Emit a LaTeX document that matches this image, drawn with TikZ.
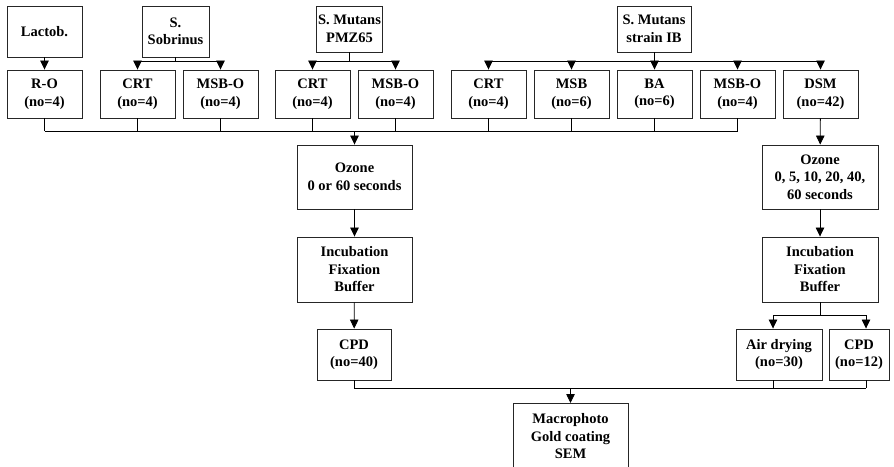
\documentclass[tikz,border=0pt]{standalone}
\usepackage{fontspec}
\setmainfont{Liberation Serif}
\usetikzlibrary{arrows.meta}
\begin{document}
\begin{tikzpicture}[x=1pt,y=-1pt,
  box/.style={draw=black!85, line width=0.9pt, align=center,
    font=\fontsize{14.5}{17.5}\selectfont\bfseries, inner sep=2pt},
  conn/.style={line width=0.8pt},
  arr/.style={conn, -{Triangle[width=8.5pt,length=9pt]}}]
\useasboundingbox (0,0) rectangle (894,466);
% top row
\node[box, minimum width=75pt, minimum height=51pt] (lac) at (44.5,31.5) {Lactob.};
\node[box, minimum width=67pt, minimum height=51pt] (sob) at (175.5,31.5) {S.\\Sobrinus};
\node[box, minimum width=65pt, minimum height=46pt] (pmz) at (349.5,29) {S. Mutans\\PMZ65};
\node[box, minimum width=74pt, minimum height=46pt] (ib) at (654,29) {S. Mutans\\strain IB};
% second row
\node[box, minimum width=75pt, minimum height=48pt] (ro) at (44.5,94) {R-O\\(no=4)};
\node[box, minimum width=75pt, minimum height=48pt] (crta) at (137.5,94) {CRT\\(no=4)};
\node[box, minimum width=75pt, minimum height=48pt] (msboa) at (220.5,94) {MSB-O\\(no=4)};
\node[box, minimum width=75pt, minimum height=48pt] (crtb) at (312.5,94) {CRT\\(no=4)};
\node[box, minimum width=75pt, minimum height=48pt] (msbob) at (395.5,94) {MSB-O\\(no=4)};
\node[box, minimum width=75pt, minimum height=48pt] (crtc) at (488.5,94) {CRT\\(no=4)};
\node[box, minimum width=75pt, minimum height=48pt] (msb) at (571.5,94) {MSB\\(no=6)};
\node[box, minimum width=75pt, minimum height=48pt] (ba) at (654.5,94) {BA\\(no=6)};
\node[box, minimum width=75pt, minimum height=48pt] (msboc) at (737.5,94) {MSB-O\\(no=4)};
\node[box, minimum width=75pt, minimum height=48pt] (dsm) at (820.5,94) {DSM\\(no=42)};
% left column
\node[box, minimum width=115pt, minimum height=64pt] (ozl) at (354.5,177) {Ozone\\0 or 60 seconds};
\node[box, minimum width=115pt, minimum height=65pt] (incl) at (354.5,269.5) {Incubation\\Fixation\\Buffer};
\node[box, minimum width=74pt, minimum height=51pt] (cpdl) at (354,354.5) {CPD\\(no=40)};
% right column
\node[box, minimum width=116pt, minimum height=64pt] (ozr) at (820,177) {Ozone\\0, 5, 10, 20, 40,\\60 seconds};
\node[box, minimum width=116pt, minimum height=65pt] (incr) at (820,269.5) {Incubation\\Fixation\\Buffer};
\node[box, minimum width=86pt, minimum height=51pt] (air) at (779,354.5) {Air drying\\(no=30)};
\node[box, minimum width=60pt, minimum height=51pt] (cpdr) at (859,354.5) {CPD\\(no=12)};
% bottom
\node[box, minimum width=115pt, anchor=north, inner ysep=10pt] (mac) at (570.5,403) {Macrophoto\\Gold coating\\SEM};
% helper levels
\coordinate (bry) at (0,61.5);
\coordinate (coly) at (0,131);
\coordinate (spy) at (0,315);
\coordinate (boty) at (0,388);
% top connectors
\draw[arr] (lac) -- (ro);
\draw[conn] (sob.south) -- (sob.south |- bry);
\draw[arr] (sob.south |- bry) -| (crta.north);
\draw[arr] (sob.south |- bry) -| (msboa.north);
\draw[conn] (pmz.south) -- (pmz.south |- bry);
\draw[arr] (pmz.south |- bry) -| (crtb.north);
\draw[arr] (pmz.south |- bry) -| (msbob.north);
\draw[conn] (ib.south) -- (ib.south |- bry);
\draw[conn] (crtc.north |- bry) -- (dsm.north |- bry);
\foreach \n in {crtc,msb,ba,msboc,dsm}
  \draw[arr] (\n.north |- bry) -- (\n.north);
% collector
\foreach \n in {ro,crta,msboa,crtb,msbob,crtc,msb,ba,msboc}
  \draw[conn] (\n.south) -- (\n.south |- coly);
\draw[conn] (ro.south |- coly) -- (msboc.south |- coly);
\draw[arr] (ozl.north |- coly) -- (ozl.north);
\draw[arr] (ozl) -- (incl);
\draw[arr] (incl) -- (cpdl);
% right column connectors
\draw[arr] (dsm) -- (ozr);
\draw[arr] (ozr) -- (incr);
\draw[conn] (incr.south) -- (incr.south |- spy);
\draw[arr] (incr.south |- spy) -| ([xshift=-6pt]air.north);
\draw[arr] (incr.south |- spy) -| ([xshift=7pt]cpdr.north);
% bottom connectors
\draw[conn] (cpdl.south) -- (cpdl.south |- boty);
\draw[conn] ([xshift=-6pt]air.south) -- ([xshift=-6pt]air.south |- boty);
\draw[conn] ([xshift=7pt]cpdr.south) -- ([xshift=7pt]cpdr.south |- boty);
\draw[conn] (cpdl.south |- boty) -- ([xshift=7pt]cpdr.south |- boty);
\draw[arr] (mac.north |- boty) -- (mac.north);
\end{tikzpicture}
\end{document}
